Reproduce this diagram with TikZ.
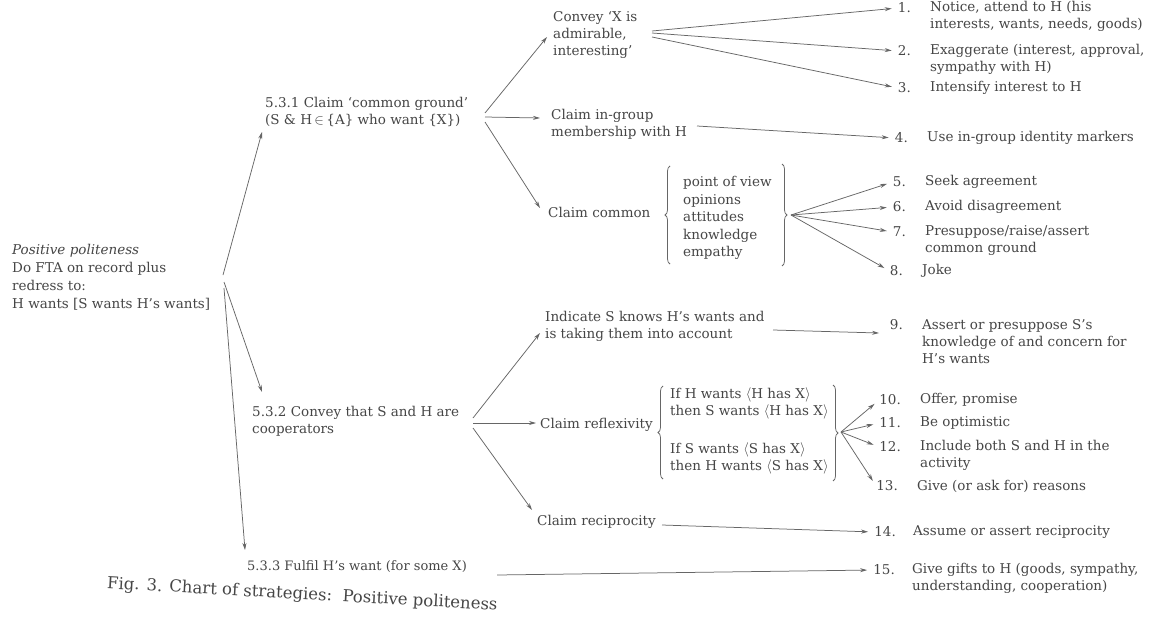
\documentclass[tikz,border=0pt]{standalone}
\usepackage{fontspec}
\setmainfont{DejaVu Serif}
\usetikzlibrary{arrows.meta,decorations.pathreplacing}
\definecolor{ink}{HTML}{464646}
\definecolor{wire}{HTML}{666666}

\begin{document}
\begin{tikzpicture}[x=1pt,y=-1pt,
  lbl/.style={inner sep=0pt, anchor=west, align=left, text=ink,
              font=\fontsize{13.5}{17}\selectfont},
  num/.style={inner sep=0pt, anchor=east, text=ink,
              font=\fontsize{13.5}{17}\selectfont},
  link/.style={draw=wire, line width=0.75pt, -{Stealth[length=7pt,width=4pt]}},
  tonum/.style={link, shorten >=6pt},
  curly/.style={draw=wire, line width=0.75pt, decorate,
                decoration={brace, amplitude=5pt}}]
\fill[white] (0,0) rectangle (1151,621);
\useasboundingbox (0,0) rectangle (1151,621);

% ---- root ----
\node[lbl, font=\fontsize{13.5}{18}\selectfont] (root) at (12,277)
  {\textit{Positive politeness}\\Do FTA on record plus\\redress to:\\H wants [S wants H’s wants]};

% ---- second level ----
\node[lbl] (s531) at (265,111.5) {5.3.1 Claim ‘common ground’\\(S \& H$\,\in\,$\{A\} who want \{X\})};
\node[lbl] (s532) at (252,421) {5.3.2 Convey that S and H are\\cooperators};
\node[lbl, font=\fontsize{13}{15}\selectfont] (s533) at (247,567) {5.3.3 Fulfil H’s want (for some X)};

% ---- third level ----
\node[lbl] (convey)   at (553,35)  {Convey ‘X is\\admirable,\\interesting’};
\node[lbl] (ingroup)  at (551,124) {Claim in-group\\membership with H};
\node[lbl] (common)   at (548,212) {Claim common};
\node[lbl, font=\fontsize{13.5}{17.5}\selectfont] (cglist) at (683,218)
  {point of view\\opinions\\attitudes\\knowledge\\empathy};
\node[lbl] (indicate) at (545,326) {Indicate S knows H’s wants and\\is taking them into account};
\node[lbl] (reflex)   at (540,425) {Claim reflexivity};
\node[lbl] (rlist)    at (670,431)
  {If H wants $\langle$H has X$\rangle$\\then S wants $\langle$H has X$\rangle$\\[21pt]If S wants $\langle$S has X$\rangle$\\then H wants $\langle$S has X$\rangle$};
\node[lbl] (recip)    at (537,522) {Claim reciprocity};

% ---- strategies ----
\node[lbl] (t1)  at (930,16.5) {Notice, attend to H (his\\interests, wants, needs, goods)};
\node[lbl] (t2)  at (930,59.5) {Exaggerate (interest, approval,\\sympathy with H)};
\node[lbl] (t3)  at (930,88)   {Intensify interest to H};
\node[lbl] (t4)  at (927,138)  {Use in-group identity markers};
\node[lbl] (t5)  at (925,182)  {Seek agreement};
\node[lbl] (t6)  at (925,207)  {Avoid disagreement};
\node[lbl] (t7)  at (925,240.5){Presuppose/raise/assert\\common ground};
\node[lbl] (t8)  at (922,271)  {Joke};
\node[lbl] (t9)  at (922,342)  {Assert or presuppose S’s\\knowledge of and concern for\\H’s wants};
\node[lbl] (t10) at (920,400)  {Offer, promise};
\node[lbl] (t11) at (920,423)  {Be optimistic};
\node[lbl] (t12) at (920,455.5){Include both S and H in the\\activity};
\node[lbl] (t13) at (917,486)  {Give (or ask for) reasons};
\node[lbl] (t14) at (913,532)  {Assume or assert reciprocity};
\node[lbl] (t15) at (912,578.5){Give gifts to H (goods, sympathy,\\understanding, cooperation)};

\node[num] (n1)  at (911,8)   {1.};
\node[num] (n2)  at (911,51)  {2.};
\node[num] (n3)  at (911,88)  {3.};
\node[num] (n4)  at (908,138) {4.};
\node[num] (n5)  at (906,182) {5.};
\node[num] (n6)  at (906,207) {6.};
\node[num] (n7)  at (906,232) {7.};
\node[num] (n8)  at (903,271) {8.};
\node[num] (n9)  at (903,325) {9.};
\node[num] (n10) at (901,400) {10.};
\node[num] (n11) at (901,423) {11.};
\node[num] (n12) at (901,447) {12.};
\node[num] (n13) at (898,486) {13.};
\node[num] (n14) at (896,532) {14.};
\node[num] (n15) at (895,570) {15.};

% ---- caption ----
\node[inner sep=0pt, anchor=west, text=ink, rotate=-3.2,
      font=\fontsize{16.5}{19}\selectfont] (caption) at (107,584)
  {Fig. 3. Chart of strategies:\ \ Positive politeness};

% ---- braces ----
\coordinate (cgL1) at (670,264); \coordinate (cgL2) at (670,166);
\coordinate (cgR1) at (782,164); \coordinate (cgR2) at (782,266);
\draw[curly] (cgL1) -- (cgL2);
\draw[curly] (cgR1) -- (cgR2);
\coordinate (rfL1) at (663,479); \coordinate (rfL2) at (663,386);
\coordinate (rfR1) at (833,385); \coordinate (rfR2) at (833,481);
\draw[curly] (rfL1) -- (rfL2);
\draw[curly] (rfR1) -- (rfR2);

% ---- connector start points ----
\coordinate (r1) at (223,275);
\coordinate (r2) at (224,282);
\coordinate (r3) at (224,288);
\coordinate (a1) at (485,113);
\coordinate (a2) at (485,117);
\coordinate (a3) at (485,122);
\coordinate (c1) at (652,31);
\coordinate (c2) at (652,33);
\coordinate (c3) at (652,37);
\coordinate (g1) at (697,126);
\coordinate (cgtip) at (791,215);
\coordinate (k1) at (773,330);
\coordinate (b1) at (473,418);
\coordinate (b2) at (473,423);
\coordinate (b3) at (473,428);
\coordinate (rftip) at (841,432);
\coordinate (p1) at (662,525);
\coordinate (f1) at (497,575);

% ---- arrow end points that sit beside a node ----
\coordinate (e531) at (262,132);
\coordinate (e532) at (262,392);
\coordinate (e533) at (245,550);
\coordinate (econv) at (547,37);
\coordinate (eing) at (540,118);
\coordinate (ecom) at (540,208);
\coordinate (eind) at (540,333);
\coordinate (eref) at (536,423);
\coordinate (erec) at (532,510);
\coordinate (e9) at (879,333);

% ---- connectors ----
\draw[link] (r1) -- (e531);
\draw[link] (r2) -- (e532);
\draw[link] (r3) -- (e533);

\draw[link] (a1) -- (econv);
\draw[link] (a2) -- (eing);
\draw[link] (a3) -- (ecom);

\draw[tonum] (c1) -- (n1.west);
\draw[tonum] (c2) -- (n2.west);
\draw[tonum] (c3) -- (n3.west);
\draw[tonum] (g1) -- (n4.west);

\draw[tonum] (cgtip) -- (n5.west);
\draw[tonum] (cgtip) -- (n6.west);
\draw[tonum] (cgtip) -- (n7.west);
\draw[tonum] (cgtip) -- (n8.west);

\draw[link] (b1) -- (eind);
\draw[link] (b2) -- (eref);
\draw[link] (b3) -- (erec);

\draw[link] (k1) -- (e9);

\draw[tonum] (rftip) -- (n10.west);
\draw[tonum] (rftip) -- (n11.west);
\draw[tonum] (rftip) -- (n12.west);
\draw[tonum] (rftip) -- (n13.west);

\draw[tonum] (p1) -- (n14.west);
\draw[tonum] (f1) -- (n15.west);
\end{tikzpicture}
\end{document}
